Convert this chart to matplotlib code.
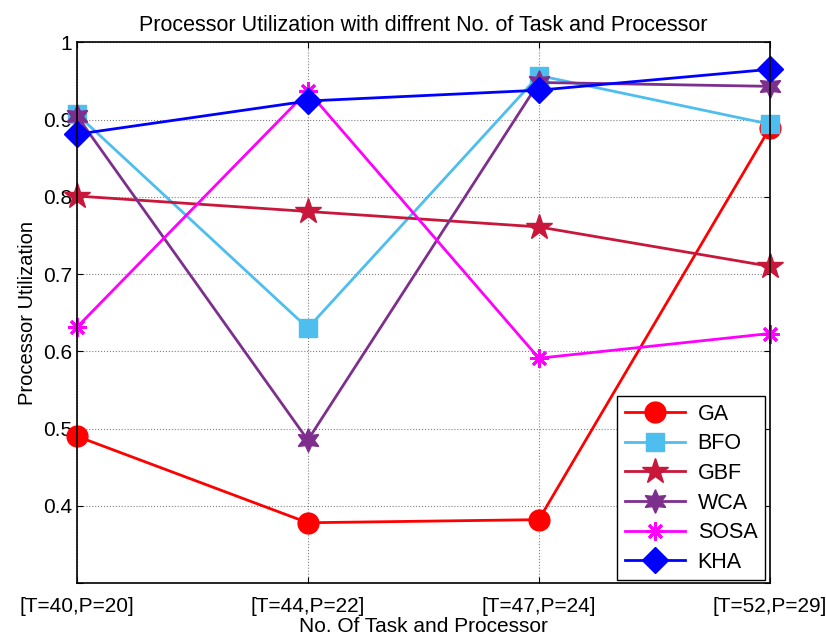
import matplotlib.pyplot as plt

plt.rcParams['font.family'] = ['Liberation Sans', 'DejaVu Sans']

# x categories
tick_labels = ['[T=40,P=20]', '[T=44,P=22]', '[T=47,P=24]', '[T=52,P=29]']
x = [1, 2, 3, 4]

# processor utilization per algorithm
ga = [0.490, 0.378, 0.382, 0.889]
bfo = [0.907, 0.630, 0.957, 0.894]
gbf = [0.801, 0.781, 0.761, 0.710]
wca = [0.905, 0.485, 0.948, 0.943]
sosa = [0.631, 0.937, 0.591, 0.623]
kha = [0.881, 0.924, 0.938, 0.965]

fig = plt.figure(figsize=(8.26, 6.41), dpi=100)
ax = fig.add_axes([0.093, 0.0905, 0.839, 0.8435])

lw = 2
kw = dict(lw=lw, clip_on=False)
ax.plot(x, ga, color='red', marker='o', ms=15, label='GA', **kw)
ax.plot(x, bfo, color='#4DBEEE', marker='s', ms=13, label='BFO', **kw)
ax.plot(x, gbf, color='#C8173A', marker='*', ms=19, label='GBF', **kw)
ax.plot(x, wca, color='#7E2F8E', marker=(6, 1, 0), ms=17, label='WCA', **kw)
ax.plot(x, sosa, color='magenta', marker=(8, 2, 0), ms=13, mew=2, label='SOSA', **kw)
ax.plot(x, kha, color='blue', marker='D', ms=13, label='KHA', **kw)

ax.set_xlim(1, 4)
ax.set_ylim(0.3, 1.0)
ax.set_xticks(x)
ax.set_xticklabels(tick_labels, fontsize=15)
ax.set_yticks([0.3, 0.4, 0.5, 0.6, 0.7, 0.8, 0.9, 1.0])
ax.set_yticklabels(['', '0.4', '0.5', '0.6', '0.7', '0.8', '0.9', '1'], fontsize=15)
ax.tick_params(direction='in', length=4, top=True, right=True)
ax.tick_params(axis='x', pad=10)
ax.grid(True, color='#808080', linestyle=':', lw=0.8)
for s in ax.spines.values():
    s.set_linewidth(1.2)

ax.set_title('Processor Utilization with diffrent No. of Task and Processor', fontsize=15.5, pad=8)
ax.set_xlabel('No. Of Task and Processor', fontsize=15, labelpad=1)
ax.set_ylabel('Processor Utilization', fontsize=14.5)

leg = ax.legend(loc='lower right', fontsize=15.5, fancybox=False, framealpha=1,
                edgecolor='black', handlelength=2.8, borderpad=0.35, labelspacing=0.4,
                handletextpad=0.6, borderaxespad=0, bbox_to_anchor=(0.993, 0.005))
leg.get_frame().set_linewidth(1.0)
leg.set_zorder(5)

fig.savefig('out.png', dpi=100)
